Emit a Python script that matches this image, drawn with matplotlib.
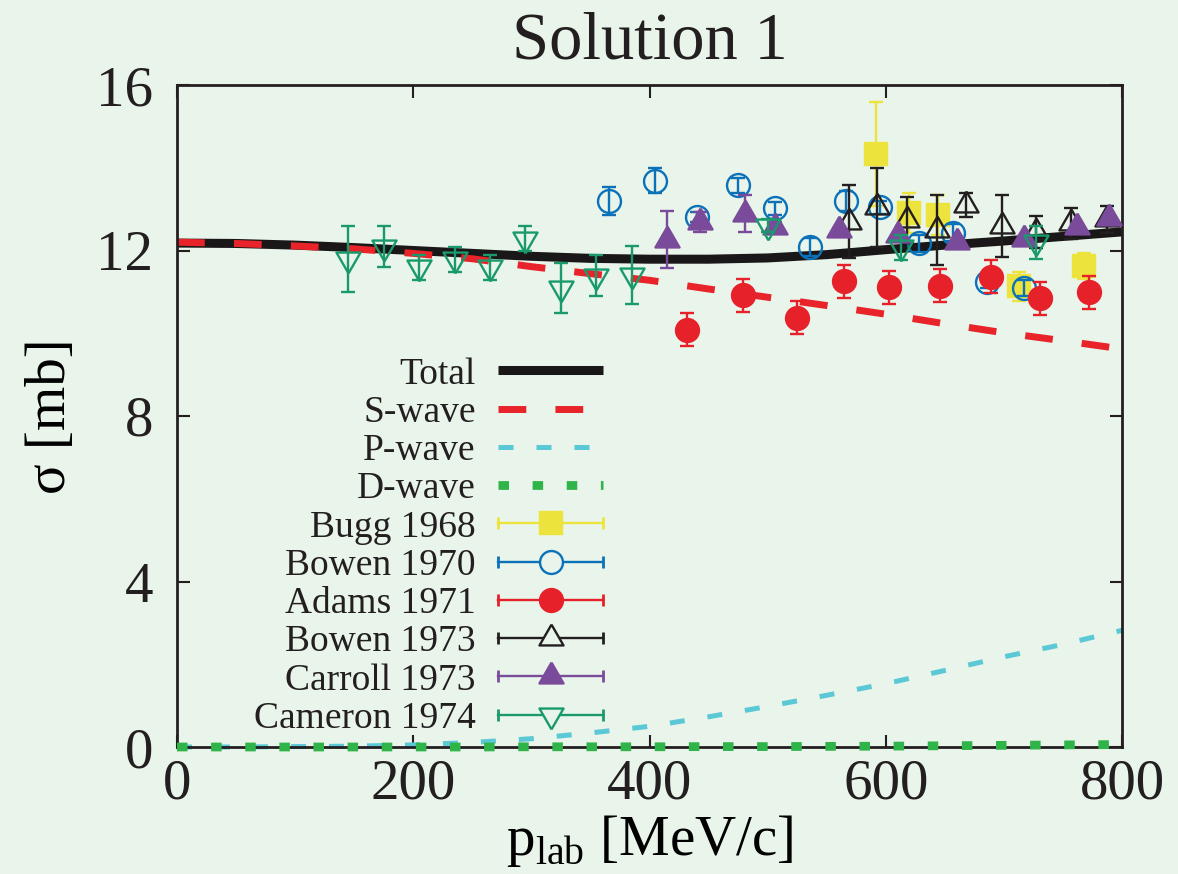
import matplotlib
matplotlib.use('Agg')
import matplotlib.pyplot as plt
from matplotlib.lines import Line2D
from matplotlib.legend_handler import HandlerBase

# model curves
curve_x = [0, 50, 100, 150, 200, 250, 300, 350, 400, 450, 500, 550, 600, 650, 700, 750, 800]
total = [12.18, 12.17, 12.13, 12.07, 12.0, 11.93, 11.86, 11.81, 11.79, 11.79, 11.82, 11.9, 12.02, 12.13, 12.23, 12.34, 12.45]
s_wave = [12.2, 12.17, 12.11, 12.04, 11.93, 11.8, 11.61, 11.44, 11.28, 11.07, 10.87, 10.67, 10.46, 10.23, 10.01, 9.82, 9.62]
p_wave = [0.0, 0.0, 0.01, 0.02, 0.05, 0.11, 0.2, 0.34, 0.5, 0.73, 0.98, 1.25, 1.53, 1.85, 2.18, 2.48, 2.82]
d_wave = [0.0, 0.0, 0.0, 0.0, 0.0, 0.0, 0.005, 0.005, 0.005, 0.01, 0.01, 0.015, 0.02, 0.03, 0.04, 0.05, 0.06]

# experimental data
bugg_x = [592, 620, 644, 713, 768]
bugg_y = [14.33, 12.91, 12.86, 11.13, 11.63]
bugg_e = [1.25, 0.48, 0.48, 0.35, 0.32]

bowen70_x = [366, 405, 440, 475, 506, 536, 566, 595, 628, 657, 686, 717]
bowen70_y = [13.2, 13.69, 12.82, 13.58, 13.02, 12.09, 13.2, 13.04, 12.17, 12.43, 11.25, 11.09]
bowen70_e = [0.34, 0.3, 0.12, 0.18, 0.15, 0.22, 0.24, 0.15, 0.2, 0.2, 0.15, 0.2]

adams_x = [432, 479, 525, 565, 603, 646, 689, 731, 772]
adams_y = [10.08, 10.92, 10.38, 11.26, 11.11, 11.15, 11.37, 10.84, 10.99]
adams_e = [0.4, 0.4, 0.4, 0.4, 0.4, 0.4, 0.39, 0.4, 0.4]

bowen73_x = [569, 593, 618, 643, 668, 698, 727, 757, 787]
bowen73_y = [12.7, 13.04, 12.74, 12.5, 13.1, 12.6, 12.45, 12.66, 12.75]
bowen73_e = [0.89, 0.95, 0.55, 0.85, 0.3, 0.75, 0.38, 0.37, 0.33]

carroll_x = [415, 443, 481, 506, 560, 610, 660, 717, 762, 789]
carroll_y = [12.26, 12.69, 12.89, 12.58, 12.5, 12.37, 12.21, 12.29, 12.58, 12.78]
carroll_e = [0.69, 0.25, 0.45, 0.1, 0.05, 0.05, 0.05, 0.05, 0.05, 0.05]

cameron_x = [145, 175, 205, 235, 265, 295, 325, 355, 385, 500, 613, 727]
cameron_y = [11.79, 12.09, 11.59, 11.79, 11.59, 12.29, 11.09, 11.39, 11.4, 12.6, 12.08, 12.2]
cameron_e = [0.8, 0.5, 0.3, 0.3, 0.3, 0.3, 0.6, 0.5, 0.7, 0.15, 0.3, 0.4]

bg = '#e9f4ea'
ink = '#231f20'
tri_up = [(0, 1), (-0.866, -0.5), (0.866, -0.5), (0, 1)]
tri_dn = [(0, -1), (-0.866, 0.5), (0.866, 0.5), (0, -1)]

plt.rcParams['font.family'] = 'Liberation Serif'
plt.rcParams['mathtext.fontset'] = 'custom'
plt.rcParams['mathtext.rm'] = 'Liberation Serif'
plt.rcParams['text.color'] = ink


class ErrHandler(HandlerBase):
    # horizontal bar with end caps and the marker in the middle (gnuplot style key)
    def create_artists(self, legend, h, xdescent, ydescent, width, height, fontsize, trans):
        y = (height - ydescent) / 2
        x0, x1 = -xdescent, width - xdescent
        c = h.get_color()
        mfc = h.get_markerfacecolor()
        if mfc == 'none':
            mfc = bg
        bar = Line2D([x0, x1], [y, y], color=c, lw=1.7)
        caps = Line2D([x0, x1], [y, y], ls='none', marker='|', ms=9, mew=2, color=c)
        mk = Line2D([(x0 + x1) / 2], [y], ls='none', marker=h.get_marker(),
                    ms=h.get_markersize(), mfc=mfc, mec=h.get_markeredgecolor(),
                    mew=h.get_markeredgewidth())
        for a in (bar, caps, mk):
            a.set_transform(trans)
        return [bar, caps, mk]


fig = plt.figure(figsize=(11.78, 8.74), dpi=100, facecolor=bg)
ax = fig.add_axes([177/1178, 1 - 747/874, (1122 - 177)/1178, (747 - 85)/874])
ax.set_facecolor(bg)

l_tot, = ax.plot(curve_x, total, color='#1a1718', lw=6.5, zorder=2, solid_capstyle='butt')
l_s, = ax.plot(curve_x, s_wave, color='#e8232a', lw=5, dashes=(4, 4.2), zorder=2)
l_p, = ax.plot(curve_x, p_wave, color='#5bc8d6', lw=3.6, dashes=(3, 4.6), zorder=2, clip_on=False)
l_d, = ax.plot(curve_x, d_wave, color='#2fb44a', lw=6.3, dashes=(1.2, 2.7), zorder=4, clip_on=False)

sets = [
    ('Bugg 1968', bugg_x, bugg_y, bugg_e, '#ece43c', 's', 16.5, True),
    ('Bowen 1970', bowen70_x, bowen70_y, bowen70_e, '#0b72b9', 'o', 16.5, False),
    ('Adams 1971', adams_x, adams_y, adams_e, '#e62129', 'o', 16.5, True),
    ('Bowen 1973', bowen73_x, bowen73_y, bowen73_e, '#231f20', tri_up, 20, False),
    ('Carroll 1973', carroll_x, carroll_y, carroll_e, '#7a4a9b', tri_up, 20, True),
    ('Cameron 1974', cameron_x, cameron_y, cameron_e, '#1a9a6c', tri_dn, 20, False),
]

handles = [l_tot, l_s, l_p, l_d]
labels = ['Total', 'S-wave', 'P-wave', 'D-wave']
hmap = {}
for i, (name, x, y, e, c, m, ms, filled) in enumerate(sets):
    ax.errorbar(x, y, yerr=e, ls='none', marker=m, ms=ms,
                mfc=c if filled else 'none', mec=c, mew=1.7,
                ecolor=c, elinewidth=1.7, capsize=4.7, capthick=2.2, zorder=5 + i)
    proxy = Line2D([], [], color=c, marker=m, ms=ms,
                   mfc=c if filled else 'none', mec=c, mew=1.7)
    handles.append(proxy)
    labels.append(name)
    hmap[proxy] = ErrHandler()

ax.legend(handles, labels, handler_map=hmap, loc='upper right',
          bbox_to_anchor=(0.451, 0.589), frameon=False, markerfirst=False,
          fontsize=27, handlelength=2.8, handletextpad=0.6, labelspacing=0.1,
          borderpad=0, borderaxespad=0)

ax.set_xlim(0, 800)
ax.set_ylim(0, 16)
ax.set_xticks([0, 200, 400, 600, 800])
ax.set_yticks([0, 4, 8, 12, 16])
ax.tick_params(direction='in', length=9, width=1.5, top=True, right=True,
               labelsize=41, colors=ink)
ax.tick_params(axis='x', pad=8)
ax.tick_params(axis='y', pad=17)
for s in ax.spines.values():
    s.set_linewidth(2)
    s.set_color(ink)

ax.set_title('Solution 1', fontsize=48, pad=19)
ax.set_xlabel(r'p$_{\mathrm{lab}}$ [MeV/c]', fontsize=41, labelpad=2)
ax.set_ylabel('σ [mb]', fontsize=41, labelpad=14)

fig.savefig('out.png', dpi=100, facecolor=bg)
